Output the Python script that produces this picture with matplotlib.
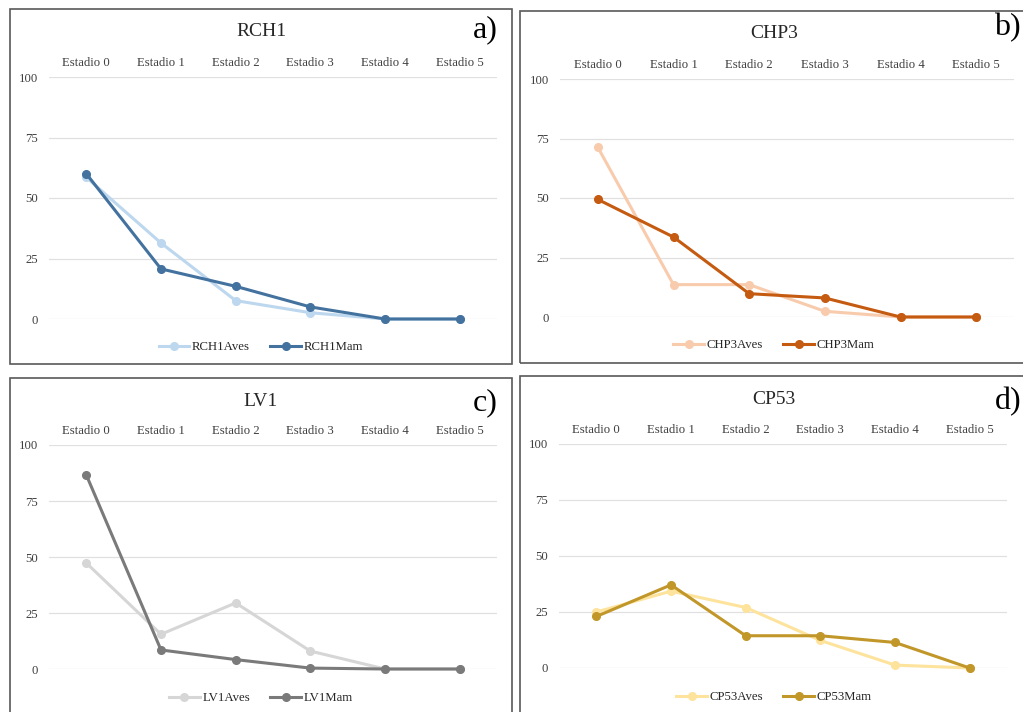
import matplotlib.pyplot as plt
from matplotlib.patches import Rectangle

plt.switch_backend('Agg')
plt.rcParams['font.family'] = ['Liberation Serif', 'DejaVu Serif']

# datos
estadios = ['Estadio 0', 'Estadio 1', 'Estadio 2', 'Estadio 3', 'Estadio 4', 'Estadio 5']
y_ticks = [0, 25, 50, 75, 100]

rch1_aves = [58.5, 31.4, 7.6, 2.6, 0, 0]
rch1_mam = [60.0, 20.7, 13.5, 5.0, 0, 0]
chp3_aves = [71.3, 13.6, 13.6, 2.4, 0, 0]
chp3_mam = [49.4, 33.6, 9.8, 8.0, 0, 0]
lv1_aves = [47.3, 15.5, 29.5, 8.0, 0, 0]
lv1_mam = [86.6, 8.5, 4.2, 0.4, 0, 0]
cp53_aves = [25.0, 34.3, 27.0, 12.3, 1.3, 0]
cp53_mam = [23.0, 37.1, 14.4, 14.4, 11.4, 0]

W, H = 1023, 712
fig = plt.figure(figsize=(W / 100, H / 100), dpi=100)


def fx(px):
    return px / W


def fy(py):
    return 1 - py / H


# (nombre, letra, aves, mam, color aves, color mam, marco, ejes, titulo_y, leyenda_y)
paneles = [
    ('RCH1', 'a)', rch1_aves, rch1_mam, '#bdd7ee', '#44729f',
     (10, 9, 512, 364), (49, 77, 497, 319), 32, 347, 498, 30),
    ('CHP3', 'b)', chp3_aves, chp3_mam, '#f8cbad', '#c55a11',
     (520, 11, 1030, 363), (560, 79, 1014, 317), 33, 345, 1021, 28),
    ('LV1', 'c)', lv1_aves, lv1_mam, '#d6d6d6', '#7a7a7a',
     (10, 378, 512, 720), (49, 445, 497, 669), 401, 698, 498, 403),
    ('CP53', 'd)', cp53_aves, cp53_mam, '#fde39c', '#c2972a',
     (520, 376, 1030, 720), (559, 444, 1007, 668), 399, 697, 1021, 402),
]

x = list(range(len(estadios)))

for nombre, letra, aves, mam, c_aves, c_mam, marco, ejes, ty, ly, lx, lyy in paneles:
    x0, y0, x1, y1 = marco
    fig.patches.append(Rectangle((fx(x0), fy(y1)), fx(x1) - fx(x0), fy(y0) - fy(y1),
                                 transform=fig.transFigure, fill=False,
                                 edgecolor='#595959', linewidth=1.2))
    a0, b0, a1, b1 = ejes
    ax = fig.add_axes([fx(a0), fy(b1), fx(a1) - fx(a0), fy(b0) - fy(b1)])
    ax.plot(x, aves, color=c_aves, lw=2.2, marker='o', ms=5.5, clip_on=False,
            label=nombre + 'Aves', zorder=3)
    ax.plot(x, mam, color=c_mam, lw=2.2, marker='o', ms=5.5, clip_on=False,
            label=nombre + 'Mam', zorder=4)
    ax.set_xlim(-0.5, 5.5)
    ax.set_ylim(0, 100)
    ax.set_xticks(x)
    ax.set_xticklabels(estadios)
    ax.set_yticks(y_ticks)
    ax.xaxis.tick_top()
    ax.tick_params(axis='x', length=0, pad=6, labelsize=9.2, colors='#404040')
    ax.tick_params(axis='y', length=0, pad=8, labelsize=9.2, colors='#404040')
    ax.grid(axis='y', color='#e0e0e0', lw=0.9)
    ax.set_axisbelow(True)
    for s in ax.spines.values():
        s.set_visible(False)

    cx = (x0 + min(x1, 1028)) / 2
    fig.text(fx(cx), fy(ty), nombre, ha='center', va='center', fontsize=14, color='#262626')
    fig.text(fx(lx), fy(lyy), letra, ha='right', va='center', fontsize=23, color='black')
    ax.legend(loc='center', bbox_to_anchor=(fx(cx), fy(ly)), bbox_transform=fig.transFigure,
              ncol=2, frameon=False, fontsize=9.2, handlelength=2.4, columnspacing=1.6,
              handletextpad=0.2, labelcolor='#262626')

fig.savefig('out.png', dpi=100)
